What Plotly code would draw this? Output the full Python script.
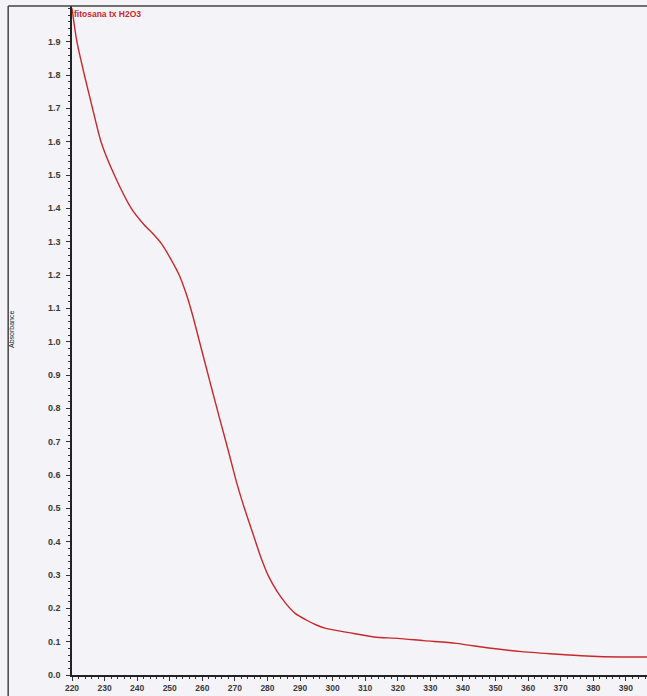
import plotly.graph_objects as go

wavelength = [220, 221.5, 223.8, 226.3, 228.9, 233.0, 238.2, 242.2, 245.0, 247.6, 250.2, 252.9,
              255.0, 257.0, 259.0, 261.0, 263.0, 265.3, 268.0, 270.6, 273.1, 275.5, 277.9,
              280.4, 283.0, 285.6, 288.5, 291.9, 295.0, 297.9,
              305, 312.7, 320, 328, 338, 348, 358, 368, 378, 388, 396.5]
absorbance = [2.00, 1.90, 1.80, 1.70, 1.60, 1.50, 1.40, 1.35, 1.322, 1.292, 1.25, 1.20,
              1.145, 1.08, 1.005, 0.93, 0.855, 0.77, 0.672, 0.575, 0.495, 0.425, 0.355,
              0.295, 0.25, 0.215, 0.185, 0.165, 0.150, 0.140,
              0.127, 0.114, 0.110, 0.103, 0.095, 0.081, 0.070, 0.063, 0.057, 0.054, 0.054]

x_ticks = list(range(220, 400, 10))
y_ticks = [round(i * 0.1, 1) for i in range(20)]
y_tick_text = [f"{v:.1f}" for v in y_ticks]
series_name = "fitosana tx H2O3"
y_title = "Absorbance"

fig = go.Figure()
fig.add_trace(go.Scatter(x=wavelength, y=absorbance, mode="lines",
                         line=dict(color="#c8282c", width=1.4, shape="spline", smoothing=0.7),
                         name=series_name, showlegend=False, hoverinfo="skip"))

x_font = dict(family="Liberation Sans, Arial", size=8.5, color="#3a3a3a", weight="bold")
y_font = dict(family="Liberation Sans, Arial", size=9, color="#3a3a3a", weight="bold")
fig.update_layout(
    width=647, height=696,
    margin=dict(l=72, r=0, t=6, b=21),
    paper_bgcolor="#f4f4f8", plot_bgcolor="#f4f4f8",
    xaxis=dict(range=[220, 396.5], tickvals=x_ticks, ticks="outside", ticklen=4, tickwidth=1,
               tickcolor="#333", showline=True, linecolor="#222", linewidth=1.5,
               showgrid=False, zeroline=False, tickfont=x_font,
               minor=dict(dtick=2, ticks="outside", ticklen=2, tickcolor="#333", showgrid=False)),
    yaxis=dict(range=[0, 2.007], tickvals=y_ticks, ticktext=y_tick_text, ticks="outside",
               ticklen=4, tickwidth=1, tickcolor="#333", showline=True, linecolor="#222",
               linewidth=1.5, showgrid=False, zeroline=False, tickfont=y_font,
               ticklabelstandoff=4,
               minor=dict(dtick=0.02, ticks="outside", ticklen=2, tickcolor="#333", showgrid=False)),
    annotations=[
        dict(text=series_name, x=0.0, y=0.999, xref="paper", yref="paper",
             xanchor="left", yanchor="top", showarrow=False,
             font=dict(family="Liberation Sans, Arial", size=8.5, color="#c8282c", weight="bold")),
        dict(text=y_title, x=-0.104, y=0.516, xref="paper", yref="paper", textangle=-90,
             xanchor="center", yanchor="middle", showarrow=False,
             font=dict(family="Liberation Sans, Arial", size=7, color="#222")),
    ],
    shapes=[
        dict(type="line", xref="paper", yref="paper", x0=-0.111, x1=1.0, y0=1.0, y1=1.0,
             line=dict(color="#444", width=1.5)),
        dict(type="line", xref="paper", yref="paper", x0=-0.111, x1=-0.111, y0=-0.04, y1=1.0,
             line=dict(color="#444", width=1.5)),
    ],
)

fig.write_html("out.html", config={"displayModeBar": False},
               post_script="document.body.style.margin='0';")
